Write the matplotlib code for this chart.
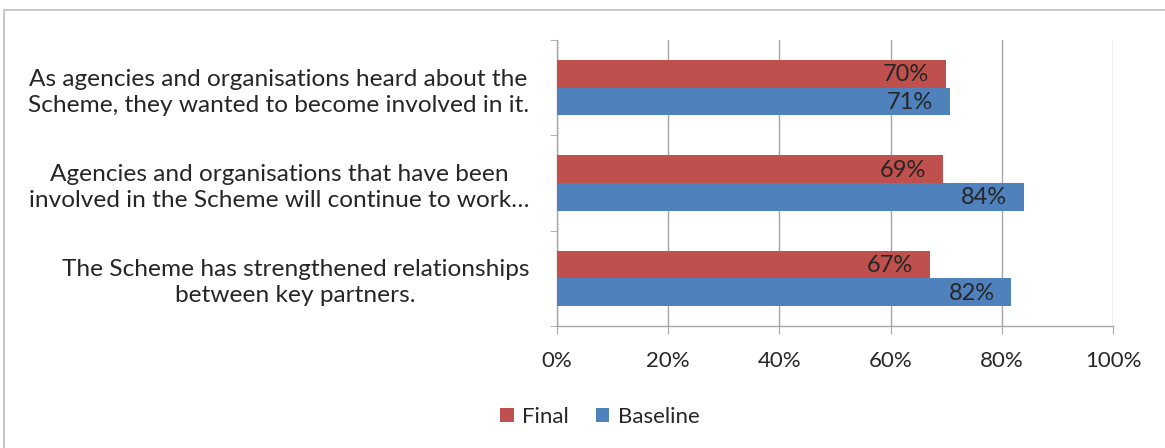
import numpy as np
import matplotlib.pyplot as plt
from matplotlib.patches import Rectangle

plt.rcParams['font.family'] = ['Lato', 'DejaVu Sans']

categories = [
    "As agencies and organisations heard about the\nScheme, they wanted to become involved in it.",
    "Agencies and organisations that have been\ninvolved in the Scheme will continue to work\u2026",
    "The Scheme has strengthened relationships\nbetween key partners.",
]
final = [0.699, 0.694, 0.670]
baseline = [0.707, 0.840, 0.817]
series_names = ["Final", "Baseline"]
xticks = [0, 0.2, 0.4, 0.6, 0.8, 1.0]
xtick_labels = ["0%", "20%", "40%", "60%", "80%", "100%"]

RED = "#C0504D"
BLUE = "#4F81BD"
GRID = "#A6A6A6"
TEXT = "#262626"

fig = plt.figure(figsize=(11.65, 4.48), dpi=100)
ax = fig.add_axes([557 / 1165, 1 - 326 / 448, (1113 - 557) / 1165, (326 - 40) / 448])

# outer chart frame (partly cut off, as in the source)
fig.patches.append(Rectangle((4 / 1165, -0.1), 1.2, 1 - 10 / 448 + 0.1,
                             transform=fig.transFigure, fill=False,
                             edgecolor="#BFBFBF", linewidth=1.2))

y = np.arange(len(categories))
h = 0.29
b1 = ax.barh(y - h / 2, final, height=h, color=RED, label=series_names[0], zorder=3)
b2 = ax.barh(y + h / 2, baseline, height=h, color=BLUE, label=series_names[1], zorder=3)

for bars in (b1, b2):
    for rect in bars:
        v = rect.get_width()
        ax.text(v - 0.03, rect.get_y() + rect.get_height() / 2 + 0.01, f"{v * 100:.0f}%",
                ha="right", va="center", fontsize=17, color=TEXT, zorder=4)

ax.set_xlim(0, 1)
ax.set_ylim(len(categories) - 0.5, -0.5)
ax.set_xticks(xticks)
ax.set_xticklabels(xtick_labels, fontsize=16, color=TEXT)
ax.set_yticks(y)
ax.set_yticklabels(categories, fontsize=17.6, color=TEXT, linespacing=1.3)
ax.tick_params(axis="y", length=0, pad=20)
ax.set_yticks(np.arange(len(categories) + 1) - 0.5, minor=True)
ax.tick_params(axis="y", which="minor", length=5, color=GRID, direction="out")
ax.tick_params(axis="x", length=6, color=GRID, direction="out", pad=12)
for lbl in ax.get_yticklabels():
    lbl.set_multialignment("center")

ax.grid(axis="x", color=GRID, linewidth=1, zorder=0)
for s in ("top", "right"):
    ax.spines[s].set_visible(False)
for s in ("left", "bottom"):
    ax.spines[s].set_color(GRID)
    ax.spines[s].set_linewidth(1)

fig.legend(handles=[b1, b2], labels=series_names, loc="center",
           bbox_to_anchor=(600 / 1165, 1 - 417 / 448), ncol=2, frameon=False,
           fontsize=16, handlelength=0.6, handleheight=0.6, handletextpad=0.4,
           columnspacing=1.2, labelcolor=TEXT)

fig.savefig("out.png", dpi=100)
